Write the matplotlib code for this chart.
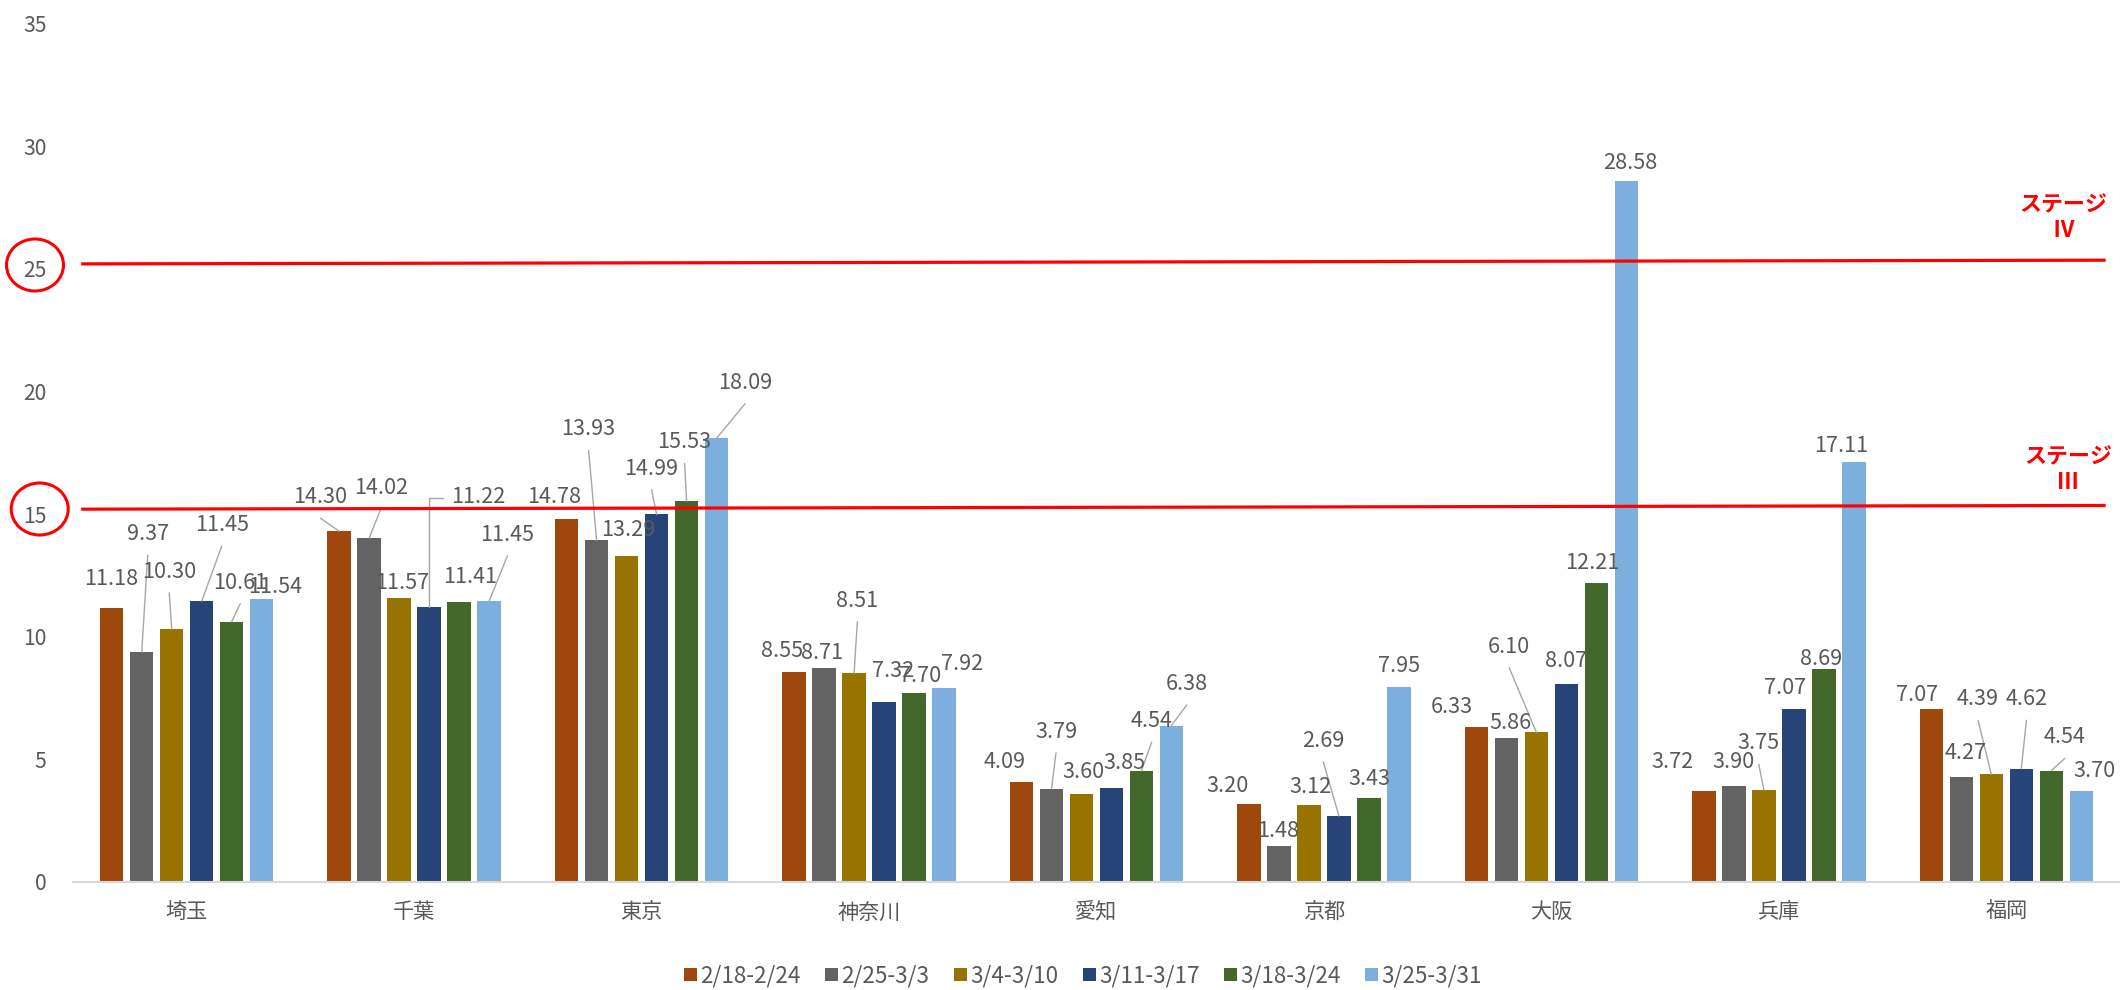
import matplotlib
matplotlib.use("Agg")
import matplotlib.pyplot as plt
from matplotlib.patches import Ellipse
import numpy as np

plt.rcParams['font.family'] = ['Noto Sans CJK JP', 'DejaVu Sans']

# 都道府県別・週ごとの値
prefectures = ['埼玉', '千葉', '東京', '神奈川', '愛知', '京都', '大阪', '兵庫', '福岡']
weeks = ['2/18-2/24', '2/25-3/3', '3/4-3/10', '3/11-3/17', '3/18-3/24', '3/25-3/31']

w_0218 = [11.18, 14.30, 14.78, 8.55, 4.09, 3.20, 6.33, 3.72, 7.07]
w_0225 = [9.37, 14.02, 13.93, 8.71, 3.79, 1.48, 5.86, 3.90, 4.27]
w_0304 = [10.30, 11.57, 13.29, 8.51, 3.60, 3.12, 6.10, 3.75, 4.39]
w_0311 = [11.45, 11.22, 14.99, 7.32, 3.85, 2.69, 8.07, 7.07, 4.62]
w_0318 = [10.61, 11.41, 15.53, 7.70, 4.54, 3.43, 12.21, 8.69, 4.54]
w_0325 = [11.54, 11.45, 18.09, 7.92, 6.38, 7.95, 28.58, 17.11, 3.70]
series = [w_0218, w_0225, w_0304, w_0311, w_0318, w_0325]

stage_levels = [15, 25]
stage_names = ['ステージ\nⅢ', 'ステージ\nⅣ']

colors = ['#9E480E', '#636363', '#997300', '#264478', '#43682B', '#7CAFDD']
text_gray = '#595959'

# ラベル位置 (棒の上端からのずれ: 右へ px, 上へ px)
label_pos = [
    [(-1, 28.5), (6, 118), (-2.5, 57.6), (20, 76), (8.5, 39), (13.5, 12.3)],
    [(-18.7, 34), (11.7, 50.4), (2.7, 15.5), (49.3, 109.5), (11, 24.7), (18.3, 66.4)],
    [(-12.5, 22.7), (-8, 111), (2, 26), (-5, 45.6), (-2, 58.7), (28.5, 55.6)],
    [(-11.7, 21.6), (-1.7, 15.6), (3.3, 72.6), (9.3, 31.7), (6, 17), (18.3, 23.4)],
    [(-16.5, 19.7), (4.5, 57.3), (1.8, 22), (12.5, 25), (10.2, 49.6), (15.2, 41.5)],
    [(-21.3, 17.8), (-1.3, 15), (2, 18.2), (-15.7, 75.3), (0, 18.6), (0, 21)],
    [(-24.2, 19.4), (4.2, 15.6), (-27.2, 85.7), (0, 23), (-4.5, 20), (3.5, 17.7)],
    [(-31.3, 28.4), (-0.7, 24), (-5, 46.7), (-8.3, 20.3), (-2.7, 10), (-13, 16.3)],
    [(-14.2, 13.6), (4.5, 24), (-13.2, 75), (5.2, 69.4), (13.5, 33.3), (13.5, 20.5)],
]
leaders = {(0, 1), (0, 2), (0, 3), (0, 4),
           (1, 0), (1, 1), (1, 5),
           (2, 1), (2, 3), (2, 4), (2, 5),
           (3, 2), (4, 1), (4, 4), (4, 5),
           (5, 3), (6, 2), (7, 2),
           (8, 2), (8, 3), (8, 4)}
elbow_leaders = {(1, 3)}

W, H = 2120, 990
fig = plt.figure(figsize=(W / 100, H / 100), dpi=100)
ax = fig.add_axes([73 / W, 1 - 882 / H, (W - 73) / W, (882 - 23.5) / H])

x = np.arange(len(prefectures))
slot = 30 / 227.5
bar_w = 23.5 / 227.5

for j, (vals, c, lab) in enumerate(zip(series, colors, weeks)):
    xs = x + (j - 2.5) * slot
    ax.bar(xs, vals, width=bar_w, color=c, label=lab, zorder=2)
    for g, (xi, v) in enumerate(zip(xs, vals)):
        dx, up = label_pos[g][j]
        ax.annotate(f'{v:.2f}', xy=(xi, v), xytext=(dx, up),
                    textcoords='offset pixels', ha='center', va='center',
                    fontsize=15.6, color=text_gray, zorder=4)
        if (g, j) in leaders:
            ax.annotate('', xy=(xi, v), xytext=(dx, up - 21),
                        textcoords='offset pixels',
                        arrowprops=dict(arrowstyle='-', color='#a6a6a6',
                                        lw=1.0, shrinkA=0, shrinkB=0),
                        zorder=3)
        if (g, j) in elbow_leaders:
            ax.annotate('', xy=(xi, v), xytext=(dx - 35, up - 1),
                        textcoords='offset pixels',
                        arrowprops=dict(arrowstyle='-', color='#a6a6a6',
                                        lw=1.0, shrinkA=0, shrinkB=0,
                                        connectionstyle='angle,angleA=0,angleB=90,rad=0'),
                        zorder=3)

# ステージの基準線 (手描きなので少し右上がり)
for lvl in stage_levels:
    ax.plot([-0.464, 8.437], [lvl + 0.2, lvl + 0.35], color='#ff0000',
            lw=2.3, solid_capstyle='butt', zorder=5, clip_on=False)

ax.set_xlim(-0.5, 8.5)
ax.set_ylim(0, 35)
ax.set_yticks(range(0, 36, 5))
ax.set_xticks(x)
ax.set_xticklabels(prefectures)
ax.tick_params(axis='y', length=0, pad=19, labelsize=15.2, labelcolor=text_gray)
ax.tick_params(axis='x', length=0, pad=14, labelsize=15.2, labelcolor=text_gray)
for s in ['top', 'right', 'left']:
    ax.spines[s].set_visible(False)
ax.spines['bottom'].set_color('#d9d9d9')
ax.spines['bottom'].set_linewidth(1.5)

# 15 と 25 の目盛りを赤丸で囲む
for cx, cy in [(35, 265), (39.7, 509)]:
    fig.add_artist(Ellipse((cx / W, 1 - cy / H), 57 / W, 52 / H,
                           transform=fig.transFigure, fill=False,
                           edgecolor='#ff0000', lw=2.2))

for name, (tx, ty) in zip(stage_names, [(2068, 470), (2063, 218)]):
    fig.text(tx / W, 1 - ty / H, name, ha='center', va='center',
             color='#ff0000', fontsize=15.8, fontweight='bold', linespacing=1.15)

fig.legend(loc='center', bbox_to_anchor=(1083 / W, 1 - 976 / H), ncol=6,
           frameon=False, fontsize=16.2, handlelength=0.56, handleheight=0.56,
           handletextpad=0.15, columnspacing=1.1, labelcolor=text_gray)

fig.savefig('out.png', dpi=100, facecolor='white')
